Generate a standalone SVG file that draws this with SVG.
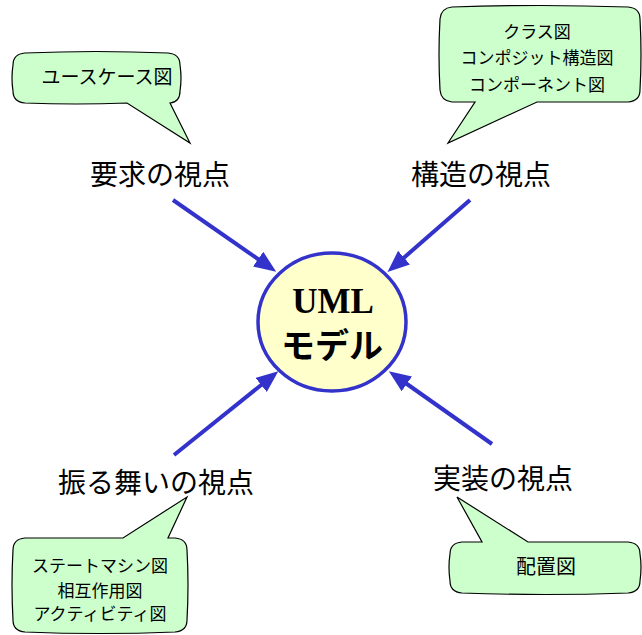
<svg xmlns="http://www.w3.org/2000/svg" width="642" height="635" viewBox="0 0 642 635">
  <style>
    .callout { fill: #ccffcc; stroke: #000; stroke-width: 1.2; stroke-linejoin: miter; }
    .ctext { font-family: "Liberation Sans", "Noto Sans CJK JP", sans-serif; font-size: 17px; fill: #000; text-anchor: middle; }
    .label { font-family: "Liberation Sans", "Noto Sans CJK JP", sans-serif; font-size: 28px; fill: #000; text-anchor: middle; }
    .conn { stroke: #3333cc; stroke-width: 4; fill: none; marker-end: url(#arrow); }
  </style>
  <defs>
    <marker id="arrow" viewBox="0 0 22 18" refX="12" refY="9" markerWidth="22" markerHeight="18" markerUnits="userSpaceOnUse" orient="auto">
      <path d="M0,0 L22,9 L0,18 Z" fill="#3333cc"/>
    </marker>
  </defs>
  <rect width="642" height="635" fill="#ffffff"/>

  <g id="connectors">
    <line class="conn" x1="173" y1="200" x2="268" y2="266"/>
    <line class="conn" x1="470" y1="200" x2="395" y2="265.5"/>
    <line class="conn" x1="174" y1="455" x2="270.5" y2="377.5"/>
    <line class="conn" x1="492" y1="444" x2="397" y2="377"/>
  </g>

  <g id="uml-model">
    <ellipse cx="332" cy="322" rx="74" ry="69" fill="#ffffcc" stroke="#3333cc" stroke-width="3.5"/>
    <text x="333" y="313" text-anchor="middle" font-family="'Liberation Serif', serif" font-weight="bold" font-size="35">UML</text>
    <text x="332" y="358" text-anchor="middle" font-family="'Noto Sans CJK JP', sans-serif" font-weight="bold" font-size="34">モデル</text>
  </g>

  <g id="requirements-view">
    <path class="callout" d="M25,53 Q96,50 168,53 Q180,54 180,65 Q182,78 180,91 Q180,102 170,103 L190,143 L127,103 Q76,105 25,103 Q13,102 13,91 Q11,78 13,65 Q13,54 25,53 Z"/>
    <text class="ctext" x="107" y="84" style="font-size:19px">ユースケース図</text>
    <text class="label" x="160" y="185">要求の視点</text>
  </g>

  <g id="structure-view">
    <path class="callout" d="M452,7 Q540,4 628,7 Q640,8 640,19 Q642,54 640,90 Q640,101 628,102 L537,102 L448,143 L475,102 L452,102 Q441,101 440,90 Q438,54 440,19 Q441,8 452,7 Z"/>
    <text class="ctext" x="537" y="38">クラス図</text>
    <text class="ctext" x="537" y="64">コンポジット構造図</text>
    <text class="ctext" x="537" y="91">コンポーネント図</text>
    <text class="label" x="481" y="185">構造の視点</text>
  </g>

  <g id="behavior-view">
    <path class="callout" d="M25,538 L123,538 L187,497 L168,538 L175,538 Q187,539 187,550 Q189,585 187,620 Q187,631 175,632 Q100,635 25,632 Q13,631 13,620 Q11,585 13,550 Q13,539 25,538 Z"/>
    <text class="ctext" x="100" y="572">ステートマシン図</text>
    <text class="ctext" x="100" y="597">相互作用図</text>
    <text class="ctext" x="100" y="620">アクティビティ図</text>
    <text class="label" x="156" y="493">振る舞いの視点</text>
  </g>

  <g id="implementation-view">
    <path class="callout" d="M462,542 L482,542 L457,497 L528,542 L628,542 Q640,543 640,554 Q642,567 640,581 Q640,592 628,593 Q545,596 462,593 Q450,592 450,581 Q448,567 450,554 Q450,543 462,542 Z"/>
    <text class="ctext" x="546" y="574" style="font-size:20px">配置図</text>
    <text class="label" x="503" y="489">実装の視点</text>
  </g>
</svg>
